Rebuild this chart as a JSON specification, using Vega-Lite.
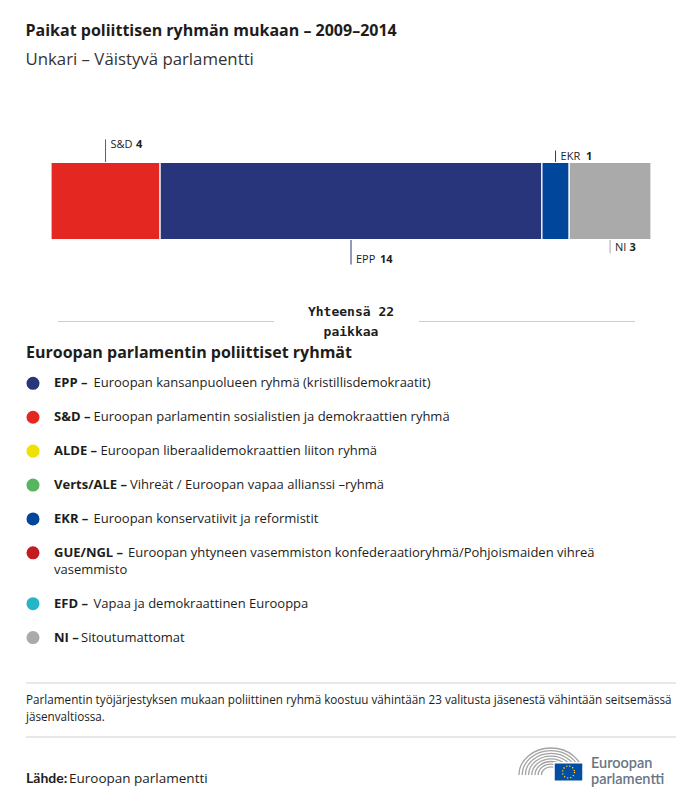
{
  "$schema": "https://vega.github.io/schema/vega-lite/v6.json",
  "background": "white",
  "padding": {"left": 25, "right": 25, "top": 23, "bottom": 0},
  "spacing": 0,
  "title": {
    "text": "Paikat poliittisen ryhmän mukaan – 2009–2014",
    "subtitle": "Unkari – Väistyvä parlamentti",
    "anchor": "start",
    "font": "Open Sans",
    "fontSize": 16,
    "fontWeight": "bold",
    "color": "#1d1d1b",
    "subtitleFont": "Open Sans",
    "subtitleFontSize": 16.8,
    "subtitleFontWeight": "normal",
    "subtitleColor": "#333333",
    "subtitlePadding": 13,
    "offset": 55
  },
  "config": {
    "view": {"stroke": null},
    "font": "Open Sans"
  },
  "resolve": {"scale": {"x": "independent", "y": "independent", "color": "shared"}},
  "datasets": {
    "seats": [
      {"group": "S&D", "seats": 4, "order": 1},
      {"group": "EPP", "seats": 14, "order": 2},
      {"group": "EKR", "seats": 1, "order": 3},
      {"group": "NI", "seats": 3, "order": 4}
    ],
    "total": [{"label": "Yhteensä 22\npaikkaa"}],
    "groups": [
      {"group": "EPP", "order": 1, "abbr": "EPP –", "desc": "Euroopan kansanpuolueen ryhmä (kristillisdemokraatit)"},
      {"group": "S&D", "order": 2, "abbr": "S&D –", "desc": "Euroopan parlamentin sosialistien ja demokraattien ryhmä"},
      {"group": "ALDE", "order": 3, "abbr": "ALDE –", "desc": "Euroopan liberaalidemokraattien liiton ryhmä"},
      {"group": "Verts/ALE", "order": 4, "abbr": "Verts/ALE –", "desc": "Vihreät / Euroopan vapaa allianssi –ryhmä"},
      {"group": "EKR", "order": 5, "abbr": "EKR –", "desc": "Euroopan konservatiivit ja reformistit"},
      {"group": "GUE/NGL", "order": 6, "abbr": "GUE/NGL –", "desc": "Euroopan yhtyneen vasemmiston konfederaatioryhmä/Pohjoismaiden vihreä", "descCont": "vasemmisto"},
      {"group": "EFD", "order": 7, "abbr": "EFD –", "desc": "Vapaa ja demokraattinen Eurooppa"},
      {"group": "NI", "order": 8, "abbr": "NI –", "desc": "Sitoutumattomat"}
    ],
    "footer": [
      {
        "note": "Parlamentin työjärjestyksen mukaan poliittinen ryhmä koostuu vähintään 23 valitusta jäsenestä vähintään seitsemässä\njäsenvaltiossa.",
        "sourceLabel": "Lähde:",
        "source": "Euroopan parlamentti",
        "brand": "Euroopan\nparlamentti"
      }
    ]
  },
  "vconcat": [
    {
      "width": 650,
      "height": 154,
      "data": {"name": "seats"},
      "transform": [
        {"stack": "seats", "groupby": [], "sort": [{"field": "order", "order": "ascending"}], "as": ["s0", "s1"]},
        {"calculate": "(datum.s0 + datum.s1) / 2", "as": "mid"},
        {"calculate": "datum.order % 2 == 1 ? (datum.order <= 2 ? 1.6 : 1.31) : (datum.order <= 2 ? -1.65 : -1.36)", "as": "lead"}
      ],
      "layer": [
        {
          "mark": {"type": "rule", "strokeWidth": 1},
          "encoding": {
            "x": {"field": "mid", "type": "quantitative", "scale": {"domain": [0, 22], "range": [25, 625], "nice": false}, "axis": null},
            "y": {"field": "lead", "type": "quantitative", "scale": {"domain": [-2, 2], "nice": false}, "axis": null},
            "y2": {"datum": 0},
            "color": {
              "field": "group", "type": "nominal", "legend": null,
              "scale": {
                "domain": ["EPP", "S&D", "ALDE", "Verts/ALE", "EKR", "GUE/NGL", "EFD", "NI"],
                "range": ["#29357a", "#e52722", "#efe200", "#57b45f", "#00479b", "#c41b22", "#25b6c5", "#aaaaaa"]
              }
            }
          }
        },
        {
          "mark": {"type": "bar", "stroke": "white", "strokeWidth": 1.2},
          "encoding": {
            "x": {"field": "s0", "type": "quantitative"},
            "x2": {"field": "s1"},
            "y": {"datum": -1, "type": "quantitative"},
            "y2": {"datum": 1},
            "color": {"field": "group", "type": "nominal", "legend": null}
          }
        },
        {
          "transform": [{"filter": "datum.lead > 0"}],
          "mark": {"type": "text", "align": "left", "baseline": "top", "dx": 5, "font": "Open Sans", "fontSize": 11, "color": "#1d1d1b"},
          "encoding": {
            "x": {"field": "mid", "type": "quantitative"},
            "y": {"field": "lead", "type": "quantitative"},
            "text": {"field": "group", "type": "nominal"}
          }
        },
        {
          "transform": [{"filter": "datum.lead < 0"}],
          "mark": {"type": "text", "align": "left", "baseline": "bottom", "dx": 5, "font": "Open Sans", "fontSize": 11, "color": "#1d1d1b"},
          "encoding": {
            "x": {"field": "mid", "type": "quantitative"},
            "y": {"field": "lead", "type": "quantitative"},
            "text": {"field": "group", "type": "nominal"}
          }
        },
        {
          "transform": [{"filter": "datum.lead > 0"}],
          "mark": {"type": "text", "align": "left", "baseline": "top", "dx": 30.5, "font": "Open Sans", "fontSize": 11, "fontWeight": "bold", "color": "#1d1d1b"},
          "encoding": {
            "x": {"field": "mid", "type": "quantitative"},
            "y": {"field": "lead", "type": "quantitative"},
            "text": {"field": "seats", "type": "quantitative"}
          }
        },
        {
          "transform": [{"filter": "datum.group == 'EPP'"}],
          "mark": {"type": "text", "align": "left", "baseline": "bottom", "dx": 29, "font": "Open Sans", "fontSize": 11, "fontWeight": "bold", "color": "#1d1d1b"},
          "encoding": {
            "x": {"field": "mid", "type": "quantitative"},
            "y": {"field": "lead", "type": "quantitative"},
            "text": {"field": "seats", "type": "quantitative"}
          }
        },
        {
          "transform": [{"filter": "datum.group == 'NI'"}],
          "mark": {"type": "text", "align": "left", "baseline": "bottom", "dx": 19.5, "font": "Open Sans", "fontSize": 11, "fontWeight": "bold", "color": "#1d1d1b"},
          "encoding": {
            "x": {"field": "mid", "type": "quantitative"},
            "y": {"field": "lead", "type": "quantitative"},
            "text": {"field": "seats", "type": "quantitative"}
          }
        }
      ]
    },
    {
      "width": 650,
      "height": 67,
      "data": {"name": "total"},
      "layer": [
        {
          "mark": {"type": "rule", "color": "#cccccc", "strokeWidth": 1},
          "encoding": {
            "x": {"datum": 32, "type": "quantitative", "scale": {"domain": [0, 650], "nice": false}, "axis": null},
            "x2": {"datum": 248},
            "y": {"datum": 43.5, "type": "quantitative", "scale": {"domain": [0, 67], "reverse": true, "nice": false}, "axis": null}
          }
        },
        {
          "mark": {"type": "rule", "color": "#cccccc", "strokeWidth": 1},
          "encoding": {
            "x": {"datum": 393, "type": "quantitative"},
            "x2": {"datum": 609},
            "y": {"datum": 43.5, "type": "quantitative"}
          }
        },
        {
          "mark": {"type": "text", "align": "center", "baseline": "alphabetic", "font": "DejaVu Sans Mono", "fontSize": 13, "fontWeight": "bold", "lineHeight": 20, "lineBreak": "\n", "color": "#1d1d1b"},
          "encoding": {
            "x": {"datum": 325, "type": "quantitative"},
            "y": {"datum": 38.2, "type": "quantitative"},
            "text": {"field": "label", "type": "nominal"}
          }
        }
      ]
    },
    {
      "width": 650,
      "height": 298.3,
      "title": {"text": "Euroopan parlamentin poliittiset ryhmät", "anchor": "start", "font": "Open Sans", "fontSize": 16, "fontWeight": "bold", "color": "#1d1d1b", "offset": 2},
      "data": {"name": "groups"},
      "transform": [
        {"calculate": "datum.order + (datum.order > 6 ? 0.5 : 0)", "as": "slot"}
      ],
      "layer": [
        {
          "mark": {"type": "point", "shape": "circle", "filled": true, "size": 170, "opacity": 1},
          "encoding": {
            "x": {"datum": 7, "type": "quantitative", "scale": {"domain": [0, 650], "nice": false}, "axis": null},
            "y": {"field": "slot", "type": "quantitative", "scale": {"domain": [0.4, 9.2], "reverse": true, "nice": false}, "axis": null},
            "color": {"field": "group", "type": "nominal", "legend": null}
          }
        },
        {
          "mark": {"type": "text", "align": "left", "baseline": "middle", "font": "Open Sans", "fontSize": 13, "fontWeight": "bold", "color": "#1d1d1b"},
          "encoding": {
            "x": {"datum": 28, "type": "quantitative"},
            "y": {"field": "slot", "type": "quantitative"},
            "text": {"field": "abbr", "type": "nominal"}
          }
        },
        {
          "transform": [{"filter": "indexof(['EPP','S&D','EKR','EFD'], datum.group) >= 0"}],
          "mark": {"type": "text", "align": "left", "baseline": "middle", "dx": 39.5, "font": "Open Sans", "fontSize": 13, "color": "#1d1d1b"},
          "encoding": {
            "x": {"datum": 28, "type": "quantitative"},
            "y": {"field": "slot", "type": "quantitative"},
            "text": {"field": "desc", "type": "nominal"}
          }
        },
        {
          "transform": [{"filter": "datum.group == 'ALDE'"}],
          "mark": {"type": "text", "align": "left", "baseline": "middle", "dx": 46.5, "font": "Open Sans", "fontSize": 13, "color": "#1d1d1b"},
          "encoding": {
            "x": {"datum": 28, "type": "quantitative"},
            "y": {"field": "slot", "type": "quantitative"},
            "text": {"field": "desc", "type": "nominal"}
          }
        },
        {
          "transform": [{"filter": "datum.group == 'Verts/ALE'"}],
          "mark": {"type": "text", "align": "left", "baseline": "middle", "dx": 76, "font": "Open Sans", "fontSize": 13, "color": "#1d1d1b"},
          "encoding": {
            "x": {"datum": 28, "type": "quantitative"},
            "y": {"field": "slot", "type": "quantitative"},
            "text": {"field": "desc", "type": "nominal"}
          }
        },
        {
          "transform": [{"filter": "datum.group == 'GUE/NGL'"}],
          "mark": {"type": "text", "align": "left", "baseline": "middle", "dx": 74, "font": "Open Sans", "fontSize": 13, "color": "#1d1d1b"},
          "encoding": {
            "x": {"datum": 28, "type": "quantitative"},
            "y": {"field": "slot", "type": "quantitative"},
            "text": {"field": "desc", "type": "nominal"}
          }
        },
        {
          "transform": [{"filter": "datum.group == 'NI'"}],
          "mark": {"type": "text", "align": "left", "baseline": "middle", "dx": 27, "font": "Open Sans", "fontSize": 13, "color": "#1d1d1b"},
          "encoding": {
            "x": {"datum": 28, "type": "quantitative"},
            "y": {"field": "slot", "type": "quantitative"},
            "text": {"field": "desc", "type": "nominal"}
          }
        },
        {
          "transform": [{"filter": "datum.descCont"}, {"calculate": "datum.slot + 0.5", "as": "slotCont"}],
          "mark": {"type": "text", "align": "left", "baseline": "middle", "font": "Open Sans", "fontSize": 13, "color": "#1d1d1b"},
          "encoding": {
            "x": {"datum": 28, "type": "quantitative"},
            "y": {"field": "slotCont", "type": "quantitative"},
            "text": {"field": "descCont", "type": "nominal"}
          }
        }
      ]
    },
    {
      "width": 650,
      "height": 142,
      "data": {"name": "footer"},
      "layer": [
        {
          "mark": {"type": "rule", "color": "#d0d0d0", "strokeWidth": 1},
          "encoding": {
            "y": {"datum": 21, "type": "quantitative", "scale": {"domain": [0, 142], "reverse": true, "nice": false}, "axis": null}
          }
        },
        {
          "mark": {"type": "rule", "color": "#d0d0d0", "strokeWidth": 1},
          "encoding": {
            "y": {"datum": 75, "type": "quantitative"}
          }
        },
        {
          "mark": {"type": "text", "align": "left", "baseline": "alphabetic", "font": "Open Sans", "fontSize": 11.7, "lineHeight": 17, "lineBreak": "\n", "color": "#1d1d1b"},
          "encoding": {
            "x": {"datum": 0, "type": "quantitative", "scale": {"domain": [0, 650], "nice": false}, "axis": null},
            "y": {"datum": 42, "type": "quantitative"},
            "text": {"field": "note", "type": "nominal"}
          }
        },
        {
          "mark": {"type": "text", "align": "left", "baseline": "alphabetic", "font": "Lato", "fontSize": 14, "fontWeight": "bold", "color": "#1d1d1b"},
          "encoding": {
            "x": {"datum": 0, "type": "quantitative"},
            "y": {"datum": 121, "type": "quantitative"},
            "text": {"field": "sourceLabel", "type": "nominal"}
          }
        },
        {
          "mark": {"type": "text", "align": "left", "baseline": "alphabetic", "dx": 43, "font": "Open Sans", "fontSize": 13.5, "color": "#1d1d1b"},
          "encoding": {
            "x": {"datum": 0, "type": "quantitative"},
            "y": {"datum": 121, "type": "quantitative"},
            "text": {"field": "source", "type": "nominal"}
          }
        },
        {
          "mark": {
            "type": "point",
            "shape": "M -1 0.406 A 1 0.844 0 0 1 1 0.406 M -0.9 0.406 A 0.9 0.76 0 0 1 0.9 0.406 M -0.8 0.406 A 0.8 0.675 0 0 1 0.8 0.406 M -0.7 0.406 A 0.7 0.591 0 0 1 0.7 0.406 M -0.6 0.406 A 0.6 0.506 0 0 1 0.6 0.406 M -0.5 0.406 A 0.5 0.422 0 0 1 0.5 0.406 M -0.4 0.406 A 0.4 0.338 0 0 1 0.4 0.406 M -0.3 0.406 A 0.3 0.253 0 0 1 0.3 0.406",
            "size": 4096,
            "filled": false,
            "stroke": "#a3a3a3",
            "strokeWidth": 1.3,
            "opacity": 1
          },
          "encoding": {
            "x": {"datum": 525, "type": "quantitative"},
            "y": {"datum": 100, "type": "quantitative"}
          }
        },
        {
          "mark": {"type": "point", "shape": "M -1 -0.64 L 1 -0.64 L 1 0.64 L -1 0.64 Z", "size": 841, "filled": true, "fill": "#034ea2", "stroke": "white", "strokeWidth": 1.5, "opacity": 1},
          "encoding": {
            "x": {"datum": 542.5, "type": "quantitative"},
            "y": {"datum": 110, "type": "quantitative"}
          }
        },
        {
          "mark": {"type": "point", "shape": "circle", "size": 144, "filled": false, "stroke": "#ffd617", "strokeWidth": 1.4, "strokeDash": [1.2, 1.95], "opacity": 1},
          "encoding": {
            "x": {"datum": 542.5, "type": "quantitative"},
            "y": {"datum": 110, "type": "quantitative"}
          }
        },
        {
          "mark": {"type": "text", "align": "left", "baseline": "alphabetic", "font": "Lato", "fontSize": 14.5, "fontWeight": 600, "lineHeight": 15.5, "lineBreak": "\n", "color": "#687684"},
          "encoding": {
            "x": {"datum": 565, "type": "quantitative"},
            "y": {"datum": 106, "type": "quantitative"},
            "text": {"field": "brand", "type": "nominal"}
          }
        }
      ]
    }
  ]
}
